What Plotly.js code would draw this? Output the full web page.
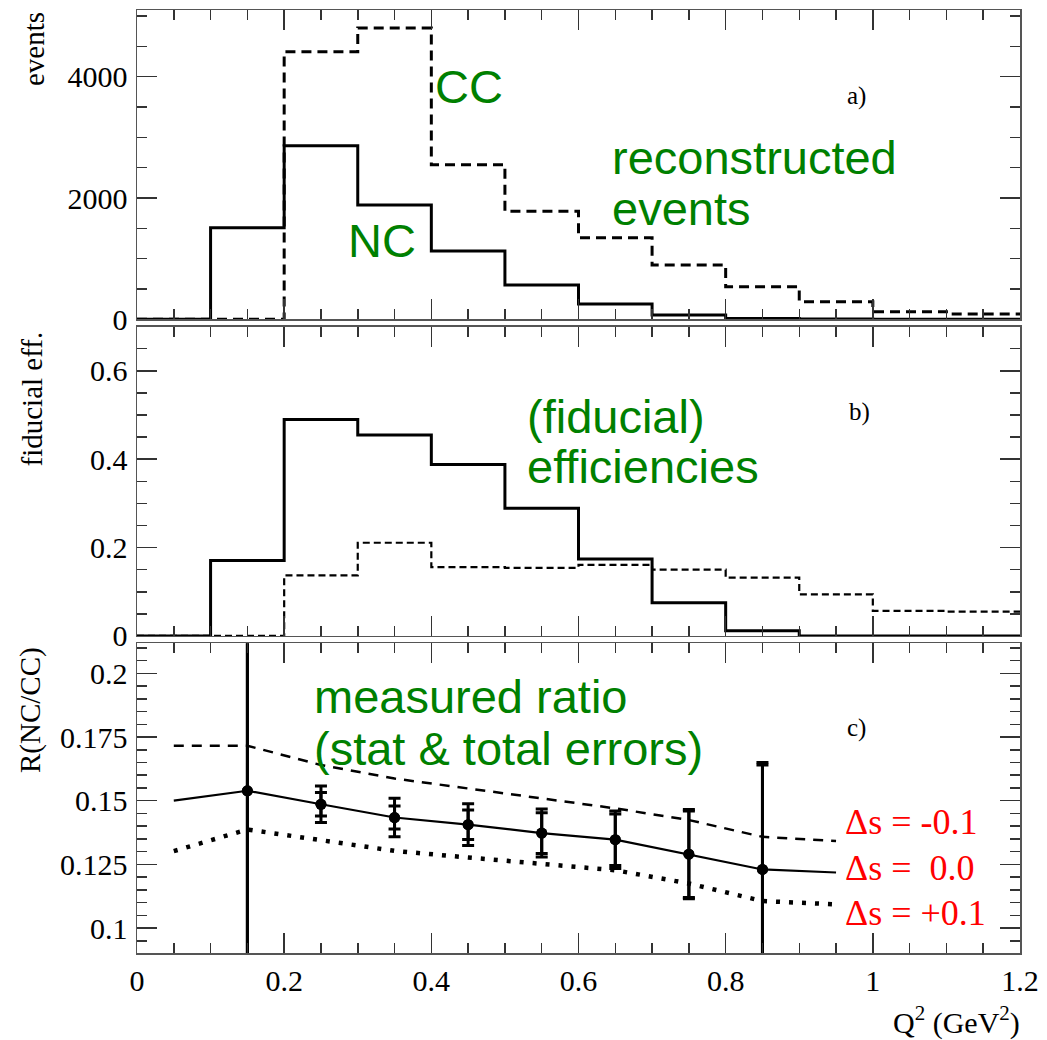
<!DOCTYPE html>
<html>
<head>
<meta charset="utf-8">
<script src="https://cdn.plot.ly/plotly-3.0.1.min.js"></script>
<style>html,body{margin:0;padding:0;background:#fff;}</style>
</head>
<body>
<div id="chart" style="width:1047px;height:1040px;"></div>
<script>
// ---- data ----
const binEdges = [0,0.1,0.2,0.3,0.4,0.5,0.6,0.7,0.8,0.9,1.0,1.1,1.2];
const ncEvents = [0,1510,2862,1885,1126,566,252,71,15,5,0,0];
const ccEvents = [0,0,4412,4803,2549,1781,1345,895,538,290,125,87];
const ncEff = [0,0.171,0.490,0.455,0.388,0.289,0.174,0.075,0.012,0,0,0];
const ccEff = [0,0,0.137,0.211,0.156,0.154,0.161,0.150,0.132,0.094,0.057,0.055];

const q2Points = [0.15,0.25,0.35,0.45,0.55,0.65,0.75,0.85];
const ratio = [0.1539,0.1486,0.1434,0.1406,0.1373,0.1347,0.1290,0.1230];
const statErr = [0.070,0.0046,0.0045,0.0058,0.0080,0.0101,0.0170,0.0410];
const totErr = [0.075,0.0072,0.0076,0.0082,0.0094,0.0113,0.0175,0.0420];

const q2Theory = [0.05,0.15,0.25,0.35,0.45,0.55,0.65,0.75,0.85,0.95];
const dsMinus = [0.1716,0.1716,0.1640,0.1587,0.1548,0.1509,0.1470,0.1424,0.1358,0.1342];
const dsZero = [0.1500,0.1539,0.1486,0.1434,0.1406,0.1373,0.1347,0.1290,0.1230,0.1218];
const dsPlus = [0.1302,0.1387,0.1345,0.1303,0.1277,0.1250,0.1227,0.1175,0.1106,0.1093];

const xTitle = 'Q<sup>2</sup> (GeV<sup>2</sup>)';
const yTitles = ['events','fiducial eff.','R(NC/CC)'];
const panelLabels = ['a)','b)','c)'];
const deltaLabels = ['\u0394s = -0.1','\u0394s = \u00a00.0','\u0394s = +0.1'];

// ---- helpers ----
function stepY(v){ return v.concat([v[v.length-1]]); }

const traces = [
  // panel a
  {x:binEdges, y:stepY(ncEvents), xaxis:'x3', yaxis:'y3', mode:'lines', line:{shape:'hv', color:'black', width:3}},
  {x:binEdges, y:stepY(ccEvents), xaxis:'x3', yaxis:'y3', mode:'lines', line:{shape:'hv', color:'black', width:3, dash:'10px,6px'}},
  // panel b
  {x:binEdges, y:stepY(ncEff), xaxis:'x2', yaxis:'y2', mode:'lines', line:{shape:'hv', color:'black', width:3}},
  {x:binEdges, y:stepY(ccEff), xaxis:'x2', yaxis:'y2', mode:'lines', line:{shape:'hv', color:'black', width:2.2, dash:'7px,4px'}},
  // panel c theory
  {x:q2Theory, y:dsMinus, xaxis:'x', yaxis:'y', mode:'lines', line:{color:'black', width:2.5, dash:'10px,8px'}},
  {x:q2Theory, y:dsZero, xaxis:'x', yaxis:'y', mode:'lines', line:{color:'black', width:2.2}},
  {x:q2Theory, y:dsPlus, xaxis:'x', yaxis:'y', mode:'lines', line:{color:'black', width:4.5, dash:'4px,9px'}},
  // data points: total and statistical errors
  {x:q2Points, y:ratio, xaxis:'x', yaxis:'y', mode:'markers', marker:{color:'black', size:11},
   error_y:{type:'data', array:totErr, visible:true, color:'black', thickness:3, width:6}},
  {x:q2Points, y:ratio, xaxis:'x', yaxis:'y', mode:'markers', marker:{color:'black', size:11},
   error_y:{type:'data', array:statErr, visible:true, color:'black', thickness:3, width:6}}
];

const serif = 'Liberation Serif';
const sans = 'Liberation Sans';
const tickFont = {family:serif, size:30, color:'black'};
function minorOf(dt){ return {ticks:'inside', ticklen:10, tickwidth:1.5, tickcolor:'#333', dtick:dt, showgrid:false}; }
function ax(extra){
  return Object.assign({
    showline:true, linecolor:'#555', linewidth:1.5, mirror:'ticks',
    ticks:'inside', ticklen:20, tickwidth:1.5, tickcolor:'#333',
    showgrid:false, zeroline:false, tickfont:tickFont, fixedrange:true
  }, extra);
}

const layout = {
  width:1047, height:1040,
  margin:{l:137, r:27, t:10, b:87},
  paper_bgcolor:'white', plot_bgcolor:'white',
  font:{family:serif, color:'black'},
  showlegend:false,
  xaxis: ax({anchor:'y', range:[0,1.2], tick0:0, dtick:0.2, ticklabelstandoff:0, minor:minorOf(0.05)}),
  xaxis2: ax({anchor:'y2', matches:'x', showticklabels:false, range:[0,1.2], tick0:0, dtick:0.2, minor:minorOf(0.05)}),
  xaxis3: ax({anchor:'y3', matches:'x', showticklabels:false, range:[0,1.2], tick0:0, dtick:0.2, minor:minorOf(0.05)}),
  yaxis: ax({domain:[0,0.3284], range:[0.0902,0.2118], tick0:0.1, dtick:0.025, ticklabelstandoff:2, minor:minorOf(0.005)}),
  yaxis2: ax({domain:[0.3362,0.6642], range:[0,0.7], tick0:0, dtick:0.2, ticklabelstandoff:2, minor:minorOf(0.05)}),
  yaxis3: ax({domain:[0.672,1.0], range:[0,5100], tick0:0, dtick:2000, tickformat:'d', ticklabelstandoff:2, minor:minorOf(500)}),
  annotations:[]
};

const green = '#008000';
function px2x(px){ return (px-137)/883; }
function py2y(py){ return (953-py)/943; }
function ann(text, px, py, font, xanchor, yanchor, angle){
  layout.annotations.push({text:text, xref:'paper', yref:'paper', x:px2x(px), y:py2y(py),
    xanchor:xanchor||'left', yanchor:yanchor||'middle', showarrow:false, font:font, textangle:angle||0});
}
// y titles
ann(yTitles[0], 34, 10, {family:serif, size:29, color:'black'}, 'center', 'top', -90);
ann(yTitles[1], 32, 330, {family:serif, size:29, color:'black'}, 'center', 'top', -90);
ann(yTitles[2], 30, 645, {family:serif, size:29, color:'black'}, 'center', 'top', -90);
// x title
ann(xTitle, 1022, 1020, {family:serif, size:30, color:'black'}, 'right', 'middle');
// panel labels
ann(panelLabels[0], 845, 96, {family:serif, size:25, color:'black'});
ann(panelLabels[1], 847, 412, {family:serif, size:25, color:'black'});
ann(panelLabels[2], 845, 728, {family:serif, size:25, color:'black'});
// green text
const gf = {family:sans, size:47, color:green};
ann('CC', 433, 87, gf);
ann('NC', 346, 240, gf);
ann('reconstructed', 610, 157, gf);
ann('events', 610, 208, gf);
ann('(fiducial)', 525, 416, gf);
ann('efficiencies', 525, 466, gf);
ann('measured ratio', 312, 696, gf);
ann('(stat &amp; total errors)', 312, 748, gf);
// red labels
const rf = {family:serif, size:36, color:'red'};
ann(deltaLabels[0], 843, 822, rf);
ann(deltaLabels[1], 843, 868, rf);
ann(deltaLabels[2], 843, 913, rf);

Plotly.newPlot('chart', traces, layout, {staticPlot:true, displayModeBar:false});
</script>
</body>
</html>
